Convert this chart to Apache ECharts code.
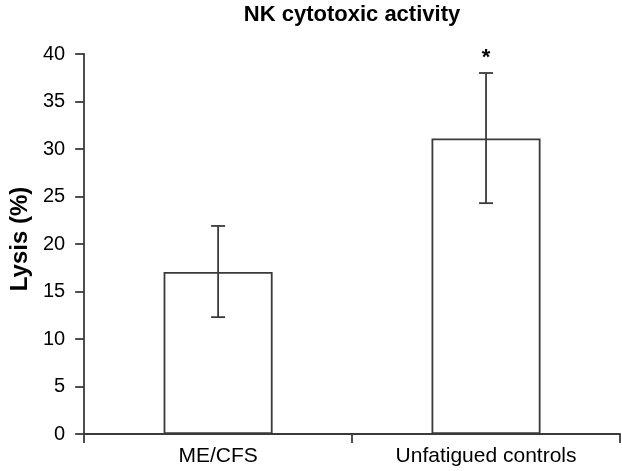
<!DOCTYPE html>
<html><head><meta charset="utf-8">
<script src="https://cdn.jsdelivr.net/npm/echarts@6/dist/echarts.min.js"></script>
<style>html,body{margin:0;padding:0;background:#fff}#c{width:622px;height:471px}</style>
</head><body><div id="c"></div>
<script>
const categories = ['ME/CFS', 'Unfatigued controls'];
const means = [17.05, 31.1];
const errLow = [12.3, 24.3];
const errHigh = [21.9, 38.0];
const marks = ['', '*'];
const yTicks = { min: 0, max: 40, interval: 5 };

const chart = echarts.init(document.getElementById('c'));
const lineColor = '#3a3a3a';
const font = 'Liberation Sans';
chart.setOption({
  animation: false,
  backgroundColor: '#fff',
  title: {
    text: 'NK cytotoxic activity', left: 347, top: -1, textAlign: 'center',
    textStyle: { fontFamily: font, fontWeight: 'bold', fontSize: 22, color: '#000' }
  },
  grid: { left: 74, right: 2, top: 54, bottom: 37 },
  xAxis: {
    type: 'category', data: categories,
    axisLine: { lineStyle: { color: lineColor, width: 1.8 } },
    axisTick: { show: true, length: 9, lineStyle: { color: lineColor, width: 1.8 } },
    axisLabel: { fontFamily: font, fontSize: 21, color: '#000', margin: 12 }
  },
  yAxis: {
    type: 'value', min: yTicks.min, max: yTicks.max, interval: yTicks.interval,
    name: 'Lysis (%)', nameLocation: 'middle', nameGap: 50,
    nameTextStyle: { fontFamily: font, fontWeight: 'bold', fontSize: 24, color: '#000', padding: [0, 0, 0, 10] },
    splitLine: { show: false },
    axisLine: { show: true, lineStyle: { color: lineColor, width: 1.8 } },
    axisTick: { show: true, length: 9, lineStyle: { color: lineColor, width: 1.8 } },
    axisLabel: { fontFamily: font, fontSize: 20, color: '#000', margin: 19 }
  },
  series: [
    {
      type: 'bar', data: means, barWidth: '40.7%',
      itemStyle: { color: '#fff', borderColor: lineColor, borderWidth: 1.8 }
    },
    {
      type: 'custom',
      data: categories.map((c, i) => [i, errLow[i], errHigh[i]]),
      renderItem: function (params, api) {
        const i = api.value(0);
        const lo = api.coord([i, api.value(1)]);
        const hi = api.coord([i, api.value(2)]);
        const hw = 7;
        const st = { stroke: lineColor, lineWidth: 1.8 };
        return {
          type: 'group', children: [
            { type: 'line', shape: { x1: lo[0], y1: lo[1], x2: hi[0], y2: hi[1] }, style: st },
            { type: 'line', shape: { x1: lo[0] - hw, y1: lo[1], x2: lo[0] + hw, y2: lo[1] }, style: st },
            { type: 'line', shape: { x1: hi[0] - hw, y1: hi[1], x2: hi[0] + hw, y2: hi[1] }, style: st }
          ]
        };
      },
      z: 5
    },
    {
      type: 'custom',
      data: categories.map((c, i) => [i, errHigh[i]]),
      renderItem: function (params, api) {
        const i = api.value(0);
        const p = api.coord([i, api.value(1)]);
        return {
          type: 'text',
          style: { x: p[0], y: p[1] - 15, text: marks[i], textAlign: 'center', textVerticalAlign: 'middle',
            font: 'bold 22px "Liberation Sans"', fill: '#000' }
        };
      },
      z: 6
    }
  ]
});
</script></body></html>
